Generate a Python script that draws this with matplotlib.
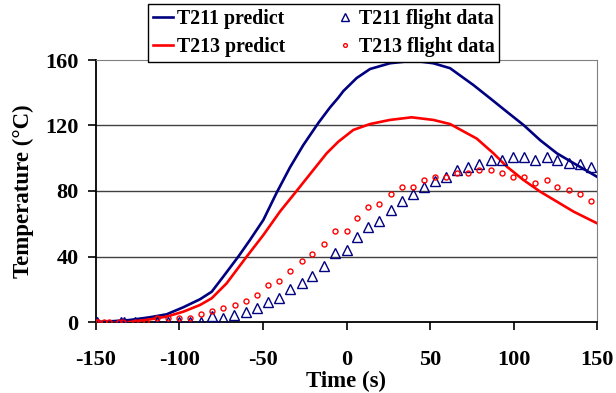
import numpy as np
import matplotlib
matplotlib.use("Agg")
import matplotlib.pyplot as plt

plt.rcParams['font.family'] = ['Liberation Serif', 'DejaVu Serif']
plt.rcParams['font.weight'] = 'bold'

############## datos #########
t_pred = [-150, -140, -130, -117.7, -107.7, -97.7, -87.7, -80.7, -73.8, -64.8, -57.8, -49.8,
          -41.8, -33.8, -25.9, -16.9, -9.9, -4.9, -1.9, 6.1, 14.1, 26, 40, 52, 62,
          76, 86, 96, 106, 116, 126, 136, 150]
t211_pred = [0, 0.5, 1.2, 2.9, 4.7, 9, 13.9, 18.5, 27.7, 39.9, 50.1, 62.3,
             79, 94.5, 108, 121.5, 131, 137, 141, 149, 154.5, 158, 159.6, 158, 155,
             144.7, 136.6, 128.4, 120.3, 111, 103, 97, 88.7]

t_pred2 = [-150, -140, -130, -117.7, -107.7, -97.7, -87.7, -80.7, -71.8, -59.8, -49.8, -39.8,
           -29.9, -19.9, -11.9, -4.9, 4.1, 14.1, 26, 39, 52, 62, 78, 88, 96, 106, 116, 126, 136, 150]
t213_pred = [-1, -0.6, 0, 1.6, 3.3, 6.3, 10.4, 14.5, 23.6, 39.9, 53.1, 67.5,
             80, 92.8, 103, 110.1, 117.3, 120.9, 123.4, 125, 123.4, 120.9, 112, 103, 94.9, 86.7, 79.6, 73.5, 67.4, 60.3]

t_tri = [-149.2, -135.2, -133.2, -126.6, -113.7, -107.1, -100.5, -93.7, -87.1, -80.4, -73.8,
         -67.2, -60.4, -53.8, -46.8, -40.4, -33.8, -26.8, -20.4, -13.5, -6.9, 0.0, 6.5, 13.1,
         19.7, 26.5, 33.1, 39.6, 46.4, 53.0, 59.6, 66.4, 72.9, 79.5, 86.3, 92.9, 99.5, 106.3,
         112.9, 119.9, 126.2, 133.2, 139.8, 146.4]
t211_data = [0.2, 0, 0, 0, 0, 0, 0, 0, 0, 3.9, 2.2,
             4.3, 6.3, 8.3, 12, 14.5, 20, 24, 28.1, 34.2, 42.3, 44, 52.1, 58.2,
             61.9, 68.4, 74.1, 78.2, 82.3, 86.1, 88.7, 92.8, 94.9, 96.5, 98.9, 98.9, 101, 101,
             98.9, 101, 98.9, 96.9, 96.5, 94.9]

t_cir = [-150, -148.6, -145.2, -142, -136, -133.6, -126.6, -120.2, -113.3, -107.1, -100.5,
         -93.7, -87.1, -80.4, -73.8, -66.8, -60.4, -53.4, -46.8, -40.4, -33.8, -26.8, -20.4,
         -13.5, -6.9, 0.0, 6.5, 13.1, 19.7, 26.5, 33.1, 39.6, 46.4, 53.0, 59.6, 66.4, 72.9,
         79.5, 86.3, 92.9, 99.5, 106.3, 112.9, 119.9, 126.2, 133.2, 139.8, 146.4]
t213_data = [0, 0, 0, 0, 0, 0, 0, 0, 2.6, 2.6, 2.6,
             2.6, 4.7, 6.7, 8.7, 10.4, 12.8, 16.5, 22.6, 25, 31.1, 37.3, 41.3,
             47.4, 55.6, 55.6, 63.7, 70, 72.1, 78.2, 82.6, 82.6, 86.7, 88.7, 88.7, 90.8, 90.8,
             92.8, 92.8, 90.8, 88.7, 88.7, 84.7, 86.7, 82.6, 80.6, 78.2, 74.1]

xticks = [-150, -100, -50, 0, 50, 100, 150]
yticks = [0, 40, 80, 120, 160]

navy = '#000080'
red = '#ff0000'

fig = plt.figure(figsize=(6.16, 3.93), dpi=100)
ax = fig.add_axes([96/616, 71/393, 501/616, 262/393])

for yv in yticks[1:-1]:
    ax.axhline(yv, color='#404040', lw=1.0, zorder=1)

l1, = ax.plot(t_pred, t211_pred, color=navy, lw=1.9, zorder=3)
l2, = ax.plot(t_pred2, t213_pred, color=red, lw=1.9, zorder=3)
m1, = ax.plot(t_tri, t211_data, ls='none', marker='^', ms=7, mfc='none', mec=navy, mew=1.0, zorder=4)
m2, = ax.plot(t_cir, t213_data, ls='none', marker='o', ms=3.6, mfc='none', mec=red, mew=1.0, zorder=4)

ax.set_xlim(-150, 150)
ax.set_ylim(0, 160)
ax.set_xticks(xticks)
ax.set_yticks(yticks)
ax.set_xticklabels([str(v) for v in xticks], fontsize=16, fontweight='bold')
ax.set_yticklabels([str(v) for v in yticks], fontsize=16, fontweight='bold')
ax.tick_params(axis='both', direction='out', length=5.5, width=1.2, color='black')
ax.tick_params(axis='x', pad=15)
ax.tick_params(axis='y', pad=7)
ax.spines['top'].set_color('#808080')
ax.spines['right'].set_color('#808080')
ax.spines['left'].set_linewidth(1.3)
ax.spines['bottom'].set_linewidth(1.3)

ax.set_xlabel('Time (s)', fontsize=16.5, fontweight='bold', va='top')
ax.xaxis.set_label_coords(0.5, -0.187)
ax.set_ylabel('Temperature (°C)', fontsize=16.5, fontweight='bold')
ax.yaxis.set_label_coords(-0.124, 0.5)

leg = fig.legend([l1, l2, m1, m2],
                 ['T211 predict', 'T213 predict', 'T211 flight data', 'T213 flight data'],
                 ncol=2, loc='upper left', bbox_to_anchor=(148/616, 1 - 4/393), borderaxespad=0,
                 frameon=True, fancybox=False, edgecolor='black', framealpha=1,
                 prop={'size': 14.3, 'weight': 'bold'}, handlelength=1.0, handletextpad=0.2,
                 columnspacing=2.5, labelspacing=0.39, borderpad=0.25, markerscale=0.75)
leg.get_frame().set_linewidth(1.0)

plt.savefig('out.png', dpi=100)
